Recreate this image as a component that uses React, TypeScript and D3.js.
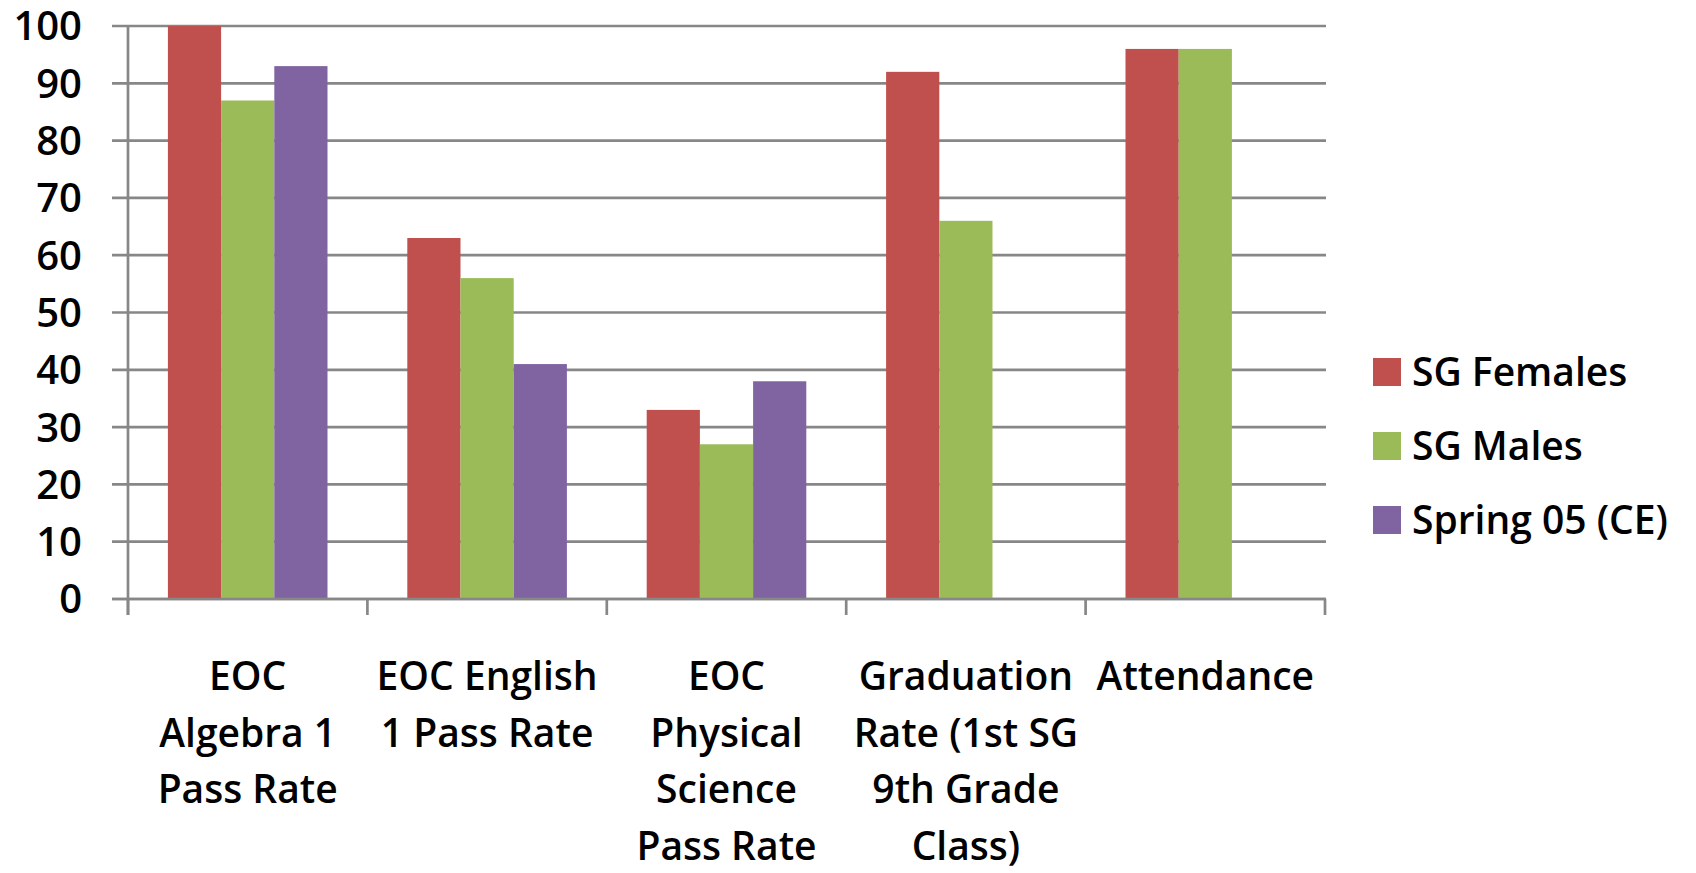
import React from "react";
import * as d3 from "d3";

const categories: string[][] = [
  ["EOC", "Algebra 1", "Pass Rate"],
  ["EOC English", "1 Pass Rate"],
  ["EOC", "Physical", "Science", "Pass Rate"],
  ["Graduation", "Rate (1st SG", "9th Grade", "Class)"],
  ["Attendance"],
];
const categoryKeys = ["alg", "eng", "phys", "grad", "att"];
const seriesNames = ["SG Females", "SG Males", "Spring 05 (CE)"];
const seriesColors = ["#C0504D", "#9BBB59", "#8064A2"];
const sgFemales = [100, 63, 33, 92, 96];
const sgMales = [87, 56, 27, 66, 96];
const spring05 = [93, 41, 38, null, null];
const yTicks = [0, 10, 20, 30, 40, 50, 60, 70, 80, 90, 100];

const W = 1696;
const H = 873;
const FONT = "'Open Sans', sans-serif";

export default function App() {
  const seriesValues = [sgFemales, sgMales, spring05];
  const x = d3.scaleBand<string>().domain(categoryKeys).range([128, 1325]).paddingInner(0).paddingOuter(0);
  const xs = d3
    .scaleBand<string>()
    .domain(seriesNames)
    .range([0, x.bandwidth()])
    .paddingInner(0)
    .paddingOuter(0.75);
  const y = d3.scaleLinear().domain([0, 100]).range([599, 26]);
  const grid = "#878787";
  const fs = 39;
  const fw = 600;

  const boundaries = categoryKeys.map((k) => x(k) as number).concat([x.range()[1]]);

  return (
    <svg
      width={W}
      height={H}
      style={{ position: "fixed", left: 0, top: 0, background: "#fff" }}
      fontFamily={FONT}
    >
      <rect x={0} y={0} width={W} height={H} fill="#fff" />
      {yTicks.map((t) => (
        <line key={"g" + t} x1={112} x2={1326} y1={y(t)} y2={y(t)} stroke={grid} strokeWidth={2.7} />
      ))}
      <line x1={128} x2={128} y1={y(100)} y2={615} stroke={grid} strokeWidth={2.7} />
      {boundaries.map((b, i) => (
        <line key={"t" + i} x1={b} x2={b} y1={y(0)} y2={615} stroke={grid} strokeWidth={2.7} />
      ))}
      {seriesValues.map((vals, si) =>
        vals.map((v, ci) =>
          v == null ? null : (
            <rect
              key={"b" + si + "-" + ci}
              x={(x(categoryKeys[ci]) as number) + (xs(seriesNames[si]) as number)}
              y={y(v)}
              width={xs.bandwidth()}
              height={y(0) - y(v)}
              fill={seriesColors[si]}
            />
          )
        )
      )}
      <line x1={112} x2={1326} y1={y(0)} y2={y(0)} stroke={grid} strokeWidth={2.7} />
      {yTicks.map((t) => (
        <text
          key={"yl" + t}
          x={82}
          y={y(t)}
          dy="0.36em"
          textAnchor="end"
          fontSize={40}
          fontWeight={fw}
          fill="#000"
        >
          {t}
        </text>
      ))}
      {categories.map((lines, ci) => (
        <text
          key={"c" + ci}
          x={(x(categoryKeys[ci]) as number) + x.bandwidth() / 2}
          y={690}
          textAnchor="middle"
          fontSize={fs}
          fontWeight={fw}
          fill="#000"
        >
          {lines.map((l, li) => (
            <tspan key={li} x={(x(categoryKeys[ci]) as number) + x.bandwidth() / 2} y={690 + li * 56.5}>
              {l}
            </tspan>
          ))}
        </text>
      ))}
      {seriesNames.map((s, i) => (
        <g key={"lg" + i} transform={`translate(1373, ${372 + i * 74})`}>
          <rect x={0} y={-14} width={28} height={28} fill={seriesColors[i]} />
          <text x={39} y={0} dy="0.36em" fontSize={fs} fontWeight={fw} fill="#000">
            {s}
          </text>
        </g>
      ))}
    </svg>
  );
}
